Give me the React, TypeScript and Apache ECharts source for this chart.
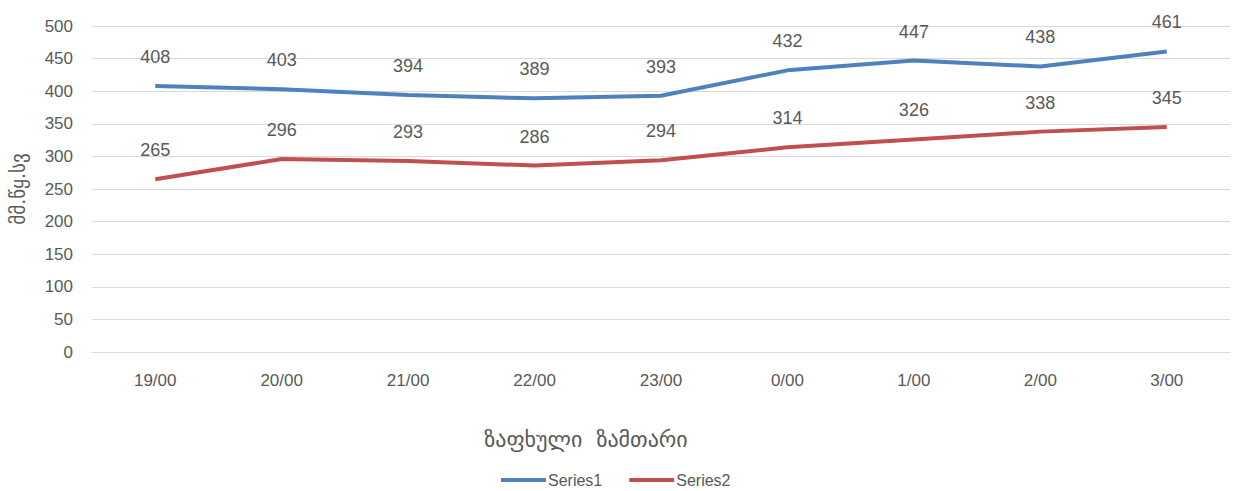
import React, { useEffect, useRef } from "react";
import * as echarts from "echarts";

const categories = ["19/00", "20/00", "21/00", "22/00", "23/00", "0/00", "1/00", "2/00", "3/00"];
const series1 = [408, 403, 394, 389, 393, 432, 447, 438, 461];
const series2 = [265, 296, 293, 286, 294, 314, 326, 338, 345];
const seriesNames = ["Series1", "Series2"];
const xTitle = "ზაფხული  ზამთარი";
const yTitle = "მმ.წყ.სვ";

export default function App() {
  const ref = useRef<HTMLDivElement>(null);
  useEffect(() => {
    document.body.style.margin = "0";
    const chart = echarts.init(ref.current!, null, { renderer: "svg" });
    const text = "#595959";
    const font = "'Liberation Sans', Arial, sans-serif";
    const label = {
      show: true,
      position: "top" as const,
      distance: 20,
      color: text,
      fontSize: 18,
      fontFamily: font,
    };
    chart.setOption({
      animation: false,
      textStyle: { fontFamily: font },
      grid: { left: 92, right: 4, top: 26, bottom: 139, containLabel: false },
      graphic: [
        {
          type: "text",
          x: 586,
          y: 439,
          style: {
            text: xTitle,
            fill: text,
            fontSize: 22,
            fontFamily: "'DejaVu Sans', sans-serif",
            align: "center",
            verticalAlign: "middle",
          },
        },
      ],
      legend: {
        bottom: -2,
        left: 496,
        itemWidth: 45,
        itemHeight: 4,
        itemGap: 27,
        icon: "rect",
        textStyle: { color: text, fontSize: 16, fontFamily: font, padding: [0, 0, 0, -3] },
        data: seriesNames,
      },
      xAxis: {
        type: "category",
        data: categories,
        boundaryGap: true,
        axisLine: { lineStyle: { color: "#d9d9d9", width: 1 } },
        axisTick: { show: false },
        axisLabel: { color: text, fontSize: 17, margin: 20, fontFamily: font },
      },
      yAxis: {
        type: "value",
        min: 0,
        max: 500,
        interval: 50,
        axisLine: { show: false },
        axisTick: { show: false },
        axisLabel: { color: text, fontSize: 17, margin: 19, fontFamily: font },
        splitLine: { lineStyle: { color: "#d9d9d9", width: 1 } },
        name: yTitle,
        nameLocation: "middle",
        nameRotate: 90,
        nameGap: 65,
        nameTextStyle: { color: text, fontSize: 19, fontFamily: "'DejaVu Sans', sans-serif" },
      },
      series: [
        {
          name: seriesNames[0],
          type: "line",
          data: series1,
          symbol: "circle",
          symbolSize: 0,
          showSymbol: true,
          lineStyle: { color: "#4F81BD", width: 4 },
          itemStyle: { color: "#4F81BD" },
          label,
        },
        {
          name: seriesNames[1],
          type: "line",
          data: series2,
          symbol: "circle",
          symbolSize: 0,
          showSymbol: true,
          lineStyle: { color: "#C0504D", width: 4 },
          itemStyle: { color: "#C0504D" },
          label,
        },
      ],
    });
    return () => chart.dispose();
  }, []);
  return <div ref={ref} style={{ width: 1234, height: 491 }} />;
}
